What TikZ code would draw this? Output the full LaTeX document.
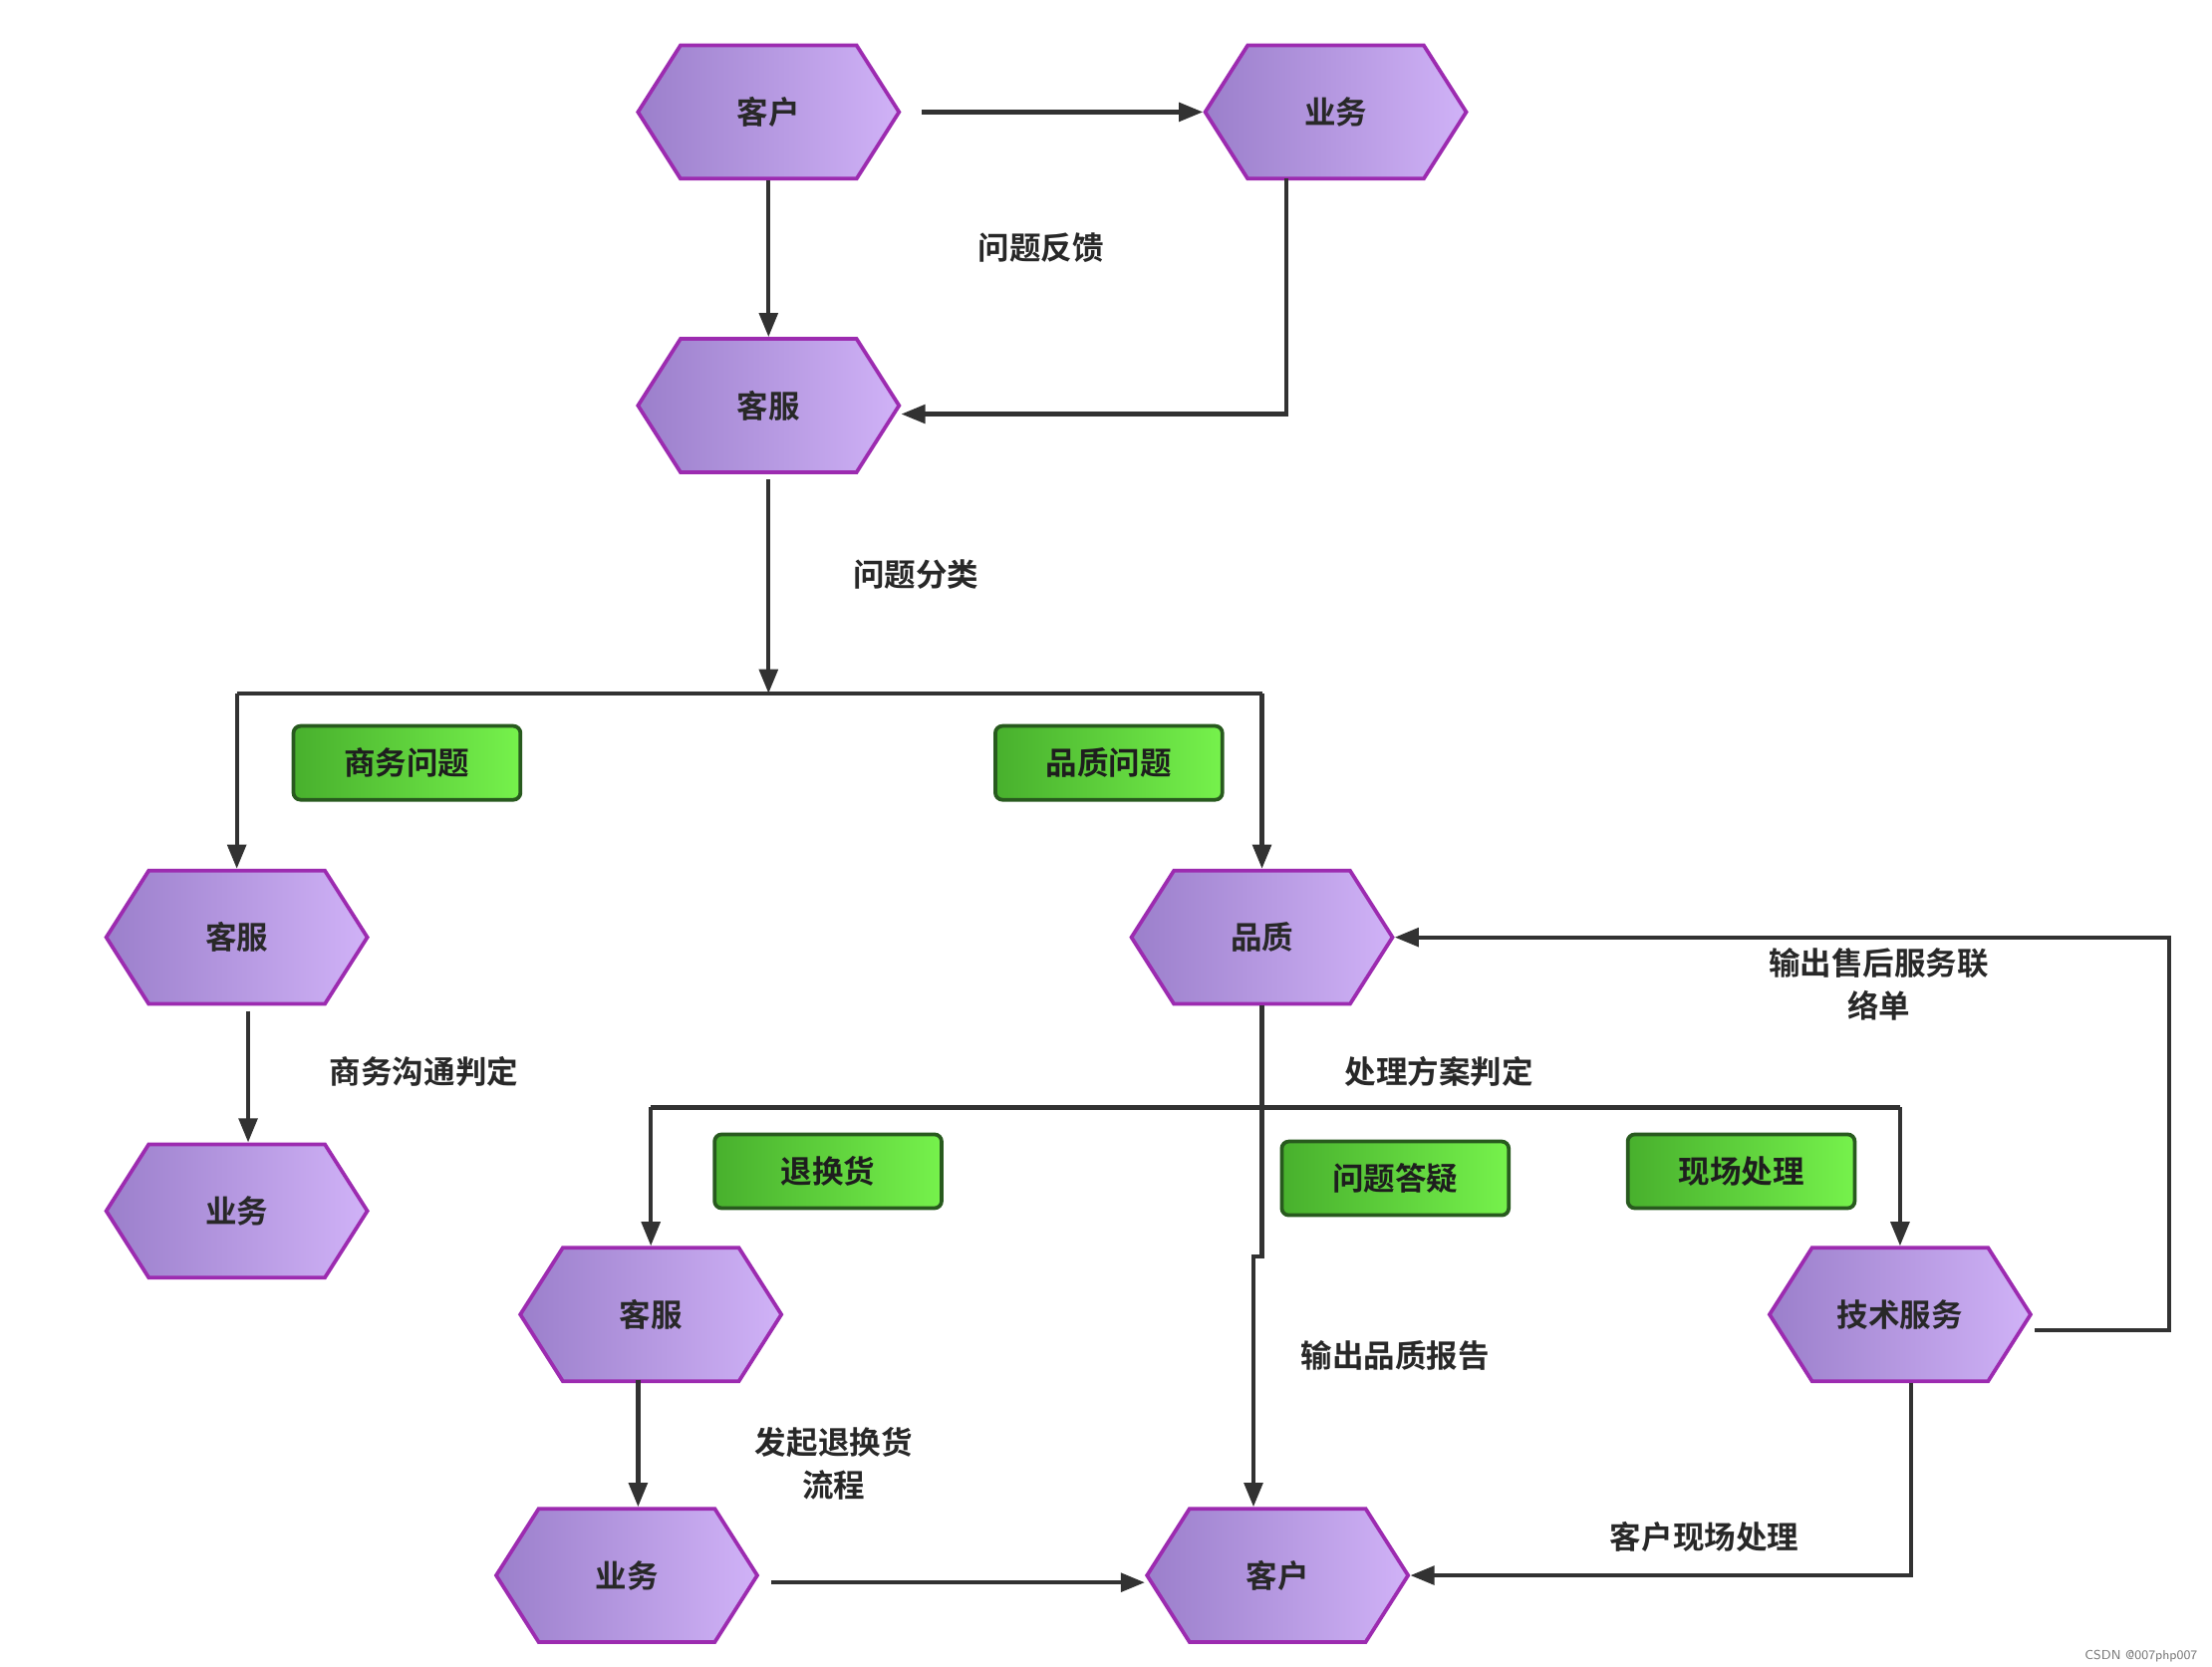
\documentclass[tikz,border=0pt]{standalone}
\usepackage{fontspec}
\newfontfamily\cjk{Noto Sans CJK SC}[BoldFont={Noto Sans CJK SC Bold}]
\usetikzlibrary{shapes.symbols,arrows.meta}
\begin{document}
\begin{tikzpicture}[x=0.01cm,y=-0.01cm,font=\cjk\bfseries\fontsize{6.3}{7.5}\selectfont,
 hex/.style={signal,signal to=west and east,signal pointer angle=115,inner sep=0pt,
   minimum width=1.84cm,minimum height=0.94cm,draw={rgb,255:red,156;green,43;blue,176},line width=0.75pt,
   left color={rgb,255:red,155;green,127;blue,203},right color={rgb,255:red,208;green,178;blue,247},text={rgb,255:red,40;green,40;blue,40}},
 tag/.style={rounded corners=0.05cm,minimum width=1.6cm,minimum height=0.52cm,inner sep=0pt,
   draw={rgb,255:red,40;green,90;blue,30},line width=0.75pt,
   left color={rgb,255:red,72;green,176;blue,45},right color={rgb,255:red,118;green,242;blue,76},text={rgb,255:red,30;green,30;blue,30}},
 lab/.style={text={rgb,255:red,40;green,40;blue,40},align=center},
 ar/.style={draw={rgb,255:red,50;green,50;blue,50},line width=0.85pt},
 ->-/.style={ar,-{Triangle[length=0.17cm,width=0.13cm]}}]
\useasboundingbox (0,0) rectangle (1560,1175);
\node[hex] (kh1) at (542,79) {客户};
\node[hex] (yw1) at (942,79) {业务};
\node[hex] (kf1) at (542,286) {客服};
\node[hex] (kf2) at (167,661) {客服};
\node[hex] (pz) at (890,661) {品质};
\node[hex] (yw2) at (167,854) {业务};
\node[hex] (kf3) at (459,927) {客服};
\node[hex] (js) at (1340,927) {技术服务};
\node[hex] (yw3) at (442,1111) {业务};
\node[hex] (kh2) at (901,1111) {客户};
\node[tag] (t1) at (287,538) {商务问题};
\node[tag] (t2) at (782,538) {品质问题};
\node[tag] (t3) at (584,826) {退换货};
\node[tag] (t4) at (984,831) {问题答疑};
\node[tag] (t5) at (1228,826) {现场处理};
\node[lab] (l1) at (734,175) {问题反馈};
\node[lab] (l2) at (646,405) {问题分类};
\node[lab] (l3) at (299,756) {商务沟通判定};
\node[lab] (l4) at (1015,756) {处理方案判定};
\node[lab,font=\cjk\bfseries\fontsize{6.3}{8.5}\selectfont] (l5) at (1325,694) {输出售后服务联\\络单};
\node[lab] (l6) at (984,956) {输出品质报告};
\node[lab,font=\cjk\bfseries\fontsize{6.3}{8.5}\selectfont] (l7) at (588,1032) {发起退换货\\流程};
\node[lab] (l8) at (1202,1084) {客户现场处理};
\node[text={rgb,255:red,120;green,120;blue,120},font=\fontsize{2.6}{3}\selectfont\sffamily] (wm) at (1510,1168) {CSDN @007php007};
% connectors
\coordinate (a0) at (650,79);
\draw[->-] (a0) -- (yw1.west);
\draw[->-] (kh1.south) -- (kf1.north);
\coordinate (b1) at (907,126); \coordinate (b2) at (907,292);
\draw[->-] (b1) -- (b2) -- (kf1.east |- b2);
\coordinate (c0) at (542,338); \coordinate (c1) at (542,489);
\draw[->-] (c0) -- (c1);
\coordinate (c2) at (167,489); \coordinate (c3) at (890,489);
\draw[ar] (c2) -- (c3);
\draw[->-] (c2) -- (kf2.north);
\draw[->-] (c3) -- (pz.north);
\coordinate (d0) at (175,713);
\draw[->-] (d0) -- (yw2.north -| d0);
\coordinate (e1) at (890,886); \coordinate (e2) at (884,886);
\draw[->-] (pz.south) -- (e1) -- (e2) -- (kh2.north -| e2);
\coordinate (f1) at (459,781); \coordinate (f2) at (1340,781);
\draw[ar] (f1) -- (f2);
\draw[->-] (f1) -- (kf3.north);
\draw[->-] (f2) -- (js.north);
\coordinate (g0) at (1435,938); \coordinate (g1) at (1530,938); \coordinate (g2) at (1530,661);
\draw[->-] (g0) -- (g1) -- (g2) -- (pz.east);
\coordinate (h0) at (450,973);
\draw[->-] (h0) -- (yw3.north -| h0);
\coordinate (i0) at (544,1116);
\draw[->-] (i0) -- (kh2.west |- i0);
\coordinate (j0) at (1348,975); \coordinate (j1) at (1348,1111);
\draw[->-] (j0) -- (j1) -- (kh2.east);
\end{tikzpicture}
\end{document}
